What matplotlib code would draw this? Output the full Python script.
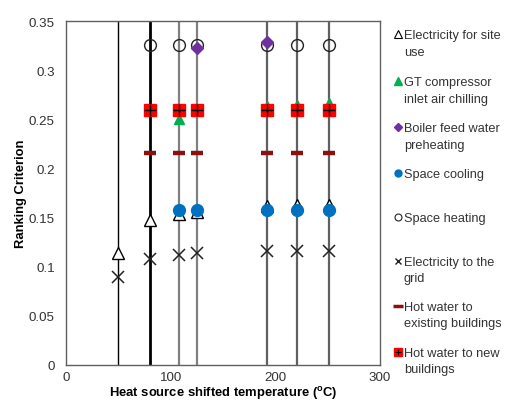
import matplotlib
matplotlib.use('Agg')
import matplotlib.pyplot as plt

plt.rcParams['font.family'] = ['Liberation Sans', 'DejaVu Sans']
plt.rcParams['mathtext.fontset'] = 'custom'
plt.rcParams['mathtext.rm'] = 'Liberation Sans:bold'
plt.rcParams['mathtext.bf'] = 'Liberation Sans:bold'

# heat source shifted temperatures (vertical guide lines)
temps = [50, 80, 108, 125, 192, 221, 251]
line_colors = ['black', 'black', '#808080', '#808080', '#606060', '#606060', '#606060']
line_widths = [1.0, 2.0, 1.6, 1.6, 1.6, 1.6, 1.6]

elec_site_x = [50, 80, 108, 125, 192, 221, 251]
elec_site_y = [0.114, 0.148, 0.154, 0.156, 0.162, 0.163, 0.163]

gt_x = [108, 192, 221, 251]
gt_y = [0.250, 0.264, 0.265, 0.267]

bfw_x = [125, 192]
bfw_y = [0.323, 0.329]

cool_x = [108, 125, 192, 221, 251]
cool_y = [0.158, 0.158, 0.158, 0.158, 0.158]

heat_x = [80, 108, 125, 192, 221, 251]
heat_y = [0.326, 0.326, 0.326, 0.326, 0.326, 0.326]

grid_x = [50, 80, 108, 125, 192, 221, 251]
grid_y = [0.090, 0.108, 0.112, 0.114, 0.116, 0.116, 0.116]

hw_old_x = [80, 108, 125, 192, 221, 251]
hw_old_y = [0.216, 0.216, 0.216, 0.216, 0.216, 0.216]

hw_new_x = [80, 108, 125, 192, 221, 251]
hw_new_y = [0.259, 0.259, 0.259, 0.259, 0.259, 0.259]

labels = ['Electricity for site\nuse', 'GT compressor\ninlet air chilling',
          'Boiler feed water\npreheating', 'Space cooling', 'Space heating',
          'Electricity to the\ngrid', 'Hot water to\nexisting buildings',
          'Hot water to new\nbuildings']

fig = plt.figure(figsize=(5.05, 4.06), dpi=100)
ax = fig.add_axes([66/505, 1-366/406, (380-66)/505, (366-22)/406])

for t, c, lw in zip(temps, line_colors, line_widths):
    ax.plot([t, t], [0, 0.35], color=c, lw=lw, zorder=1)

ax.plot(grid_x, grid_y, 'x', color='#222222', ms=8.5, mew=1.1, zorder=3)
ax.plot(elec_site_x, elec_site_y, '^', mfc='white', mec='black', ms=8.5, mew=1.0, zorder=3)
ax.plot(cool_x, cool_y, 'o', color='#0070C0', ms=8.5, zorder=4)
ax.plot(hw_old_x, hw_old_y, '_', color='#8B1010', ms=9, mew=3.2, zorder=4)
ax.plot(gt_x, gt_y, '^', color='#00B050', ms=7, zorder=3)
ax.plot(hw_new_x, hw_new_y, 's', color='#FF0000', ms=8.5, zorder=4)
ax.plot(hw_new_x, hw_new_y, '+', color='black', ms=8, mew=1.0, zorder=5)
ax.plot(heat_x, heat_y, 'o', mfc='none', mec='#222222', ms=8.5, mew=1.0, zorder=3)
ax.plot(bfw_x, bfw_y, 'D', color='#7030A0', ms=6, zorder=4)

ax.set_xlim(0, 300)
ax.set_ylim(0, 0.35)
ax.set_xticks([0, 100, 200, 300])
ax.set_yticks([0, 0.05, 0.1, 0.15, 0.2, 0.25, 0.3, 0.35])
ax.set_yticklabels(['0', '0.05', '0.1', '0.15', '0.2', '0.25', '0.3', '0.35'])
ax.tick_params(length=0, labelsize=9.6, colors='#333333')
ax.tick_params(axis='x', pad=4)
ax.tick_params(axis='y', pad=8)
for s in ax.spines.values():
    s.set_color('#606060')
    s.set_linewidth(1.0)
ax.set_xlabel('Heat source shifted temperature ($^{\\rm o}$C)', fontsize=9.4,
              fontweight='bold', labelpad=1)
ax.set_ylabel('Ranking Criterion', fontsize=9.4, fontweight='bold', labelpad=1)

# legend on the right, one slot per series
leg = fig.add_axes([0, 0, 1, 1])
leg.set_xlim(0, 505)
leg.set_ylim(406, 0)
leg.axis('off')
rows = [35, 82, 128, 174, 218, 262, 307, 353]
mx, tx = 398, 404
leg.plot(mx, rows[0], '^', mfc='white', mec='black', ms=5.5, mew=0.8)
leg.plot(mx, rows[1], '^', color='#00B050', ms=5.5)
leg.plot(mx, rows[2], 'D', color='#7030A0', ms=4)
leg.plot(mx, rows[3], 'o', color='#0070C0', ms=5)
leg.plot(mx, rows[4], 'o', mfc='none', mec='#222222', ms=5, mew=0.8)
leg.plot(mx, rows[5], 'x', color='#222222', ms=5, mew=1.0)
leg.plot(mx, rows[6], '_', color='#8B1010', ms=7, mew=2.5)
leg.plot(mx, rows[7], 's', color='#FF0000', ms=6)
leg.plot(mx, rows[7], '+', color='black', ms=5, mew=0.8)
for y, lab in zip(rows, labels):
    leg.text(tx, y - 5, lab, fontsize=9.2, color='#333333', va='top', ha='left',
             linespacing=1.5)

fig.savefig('out.png', dpi=100)
